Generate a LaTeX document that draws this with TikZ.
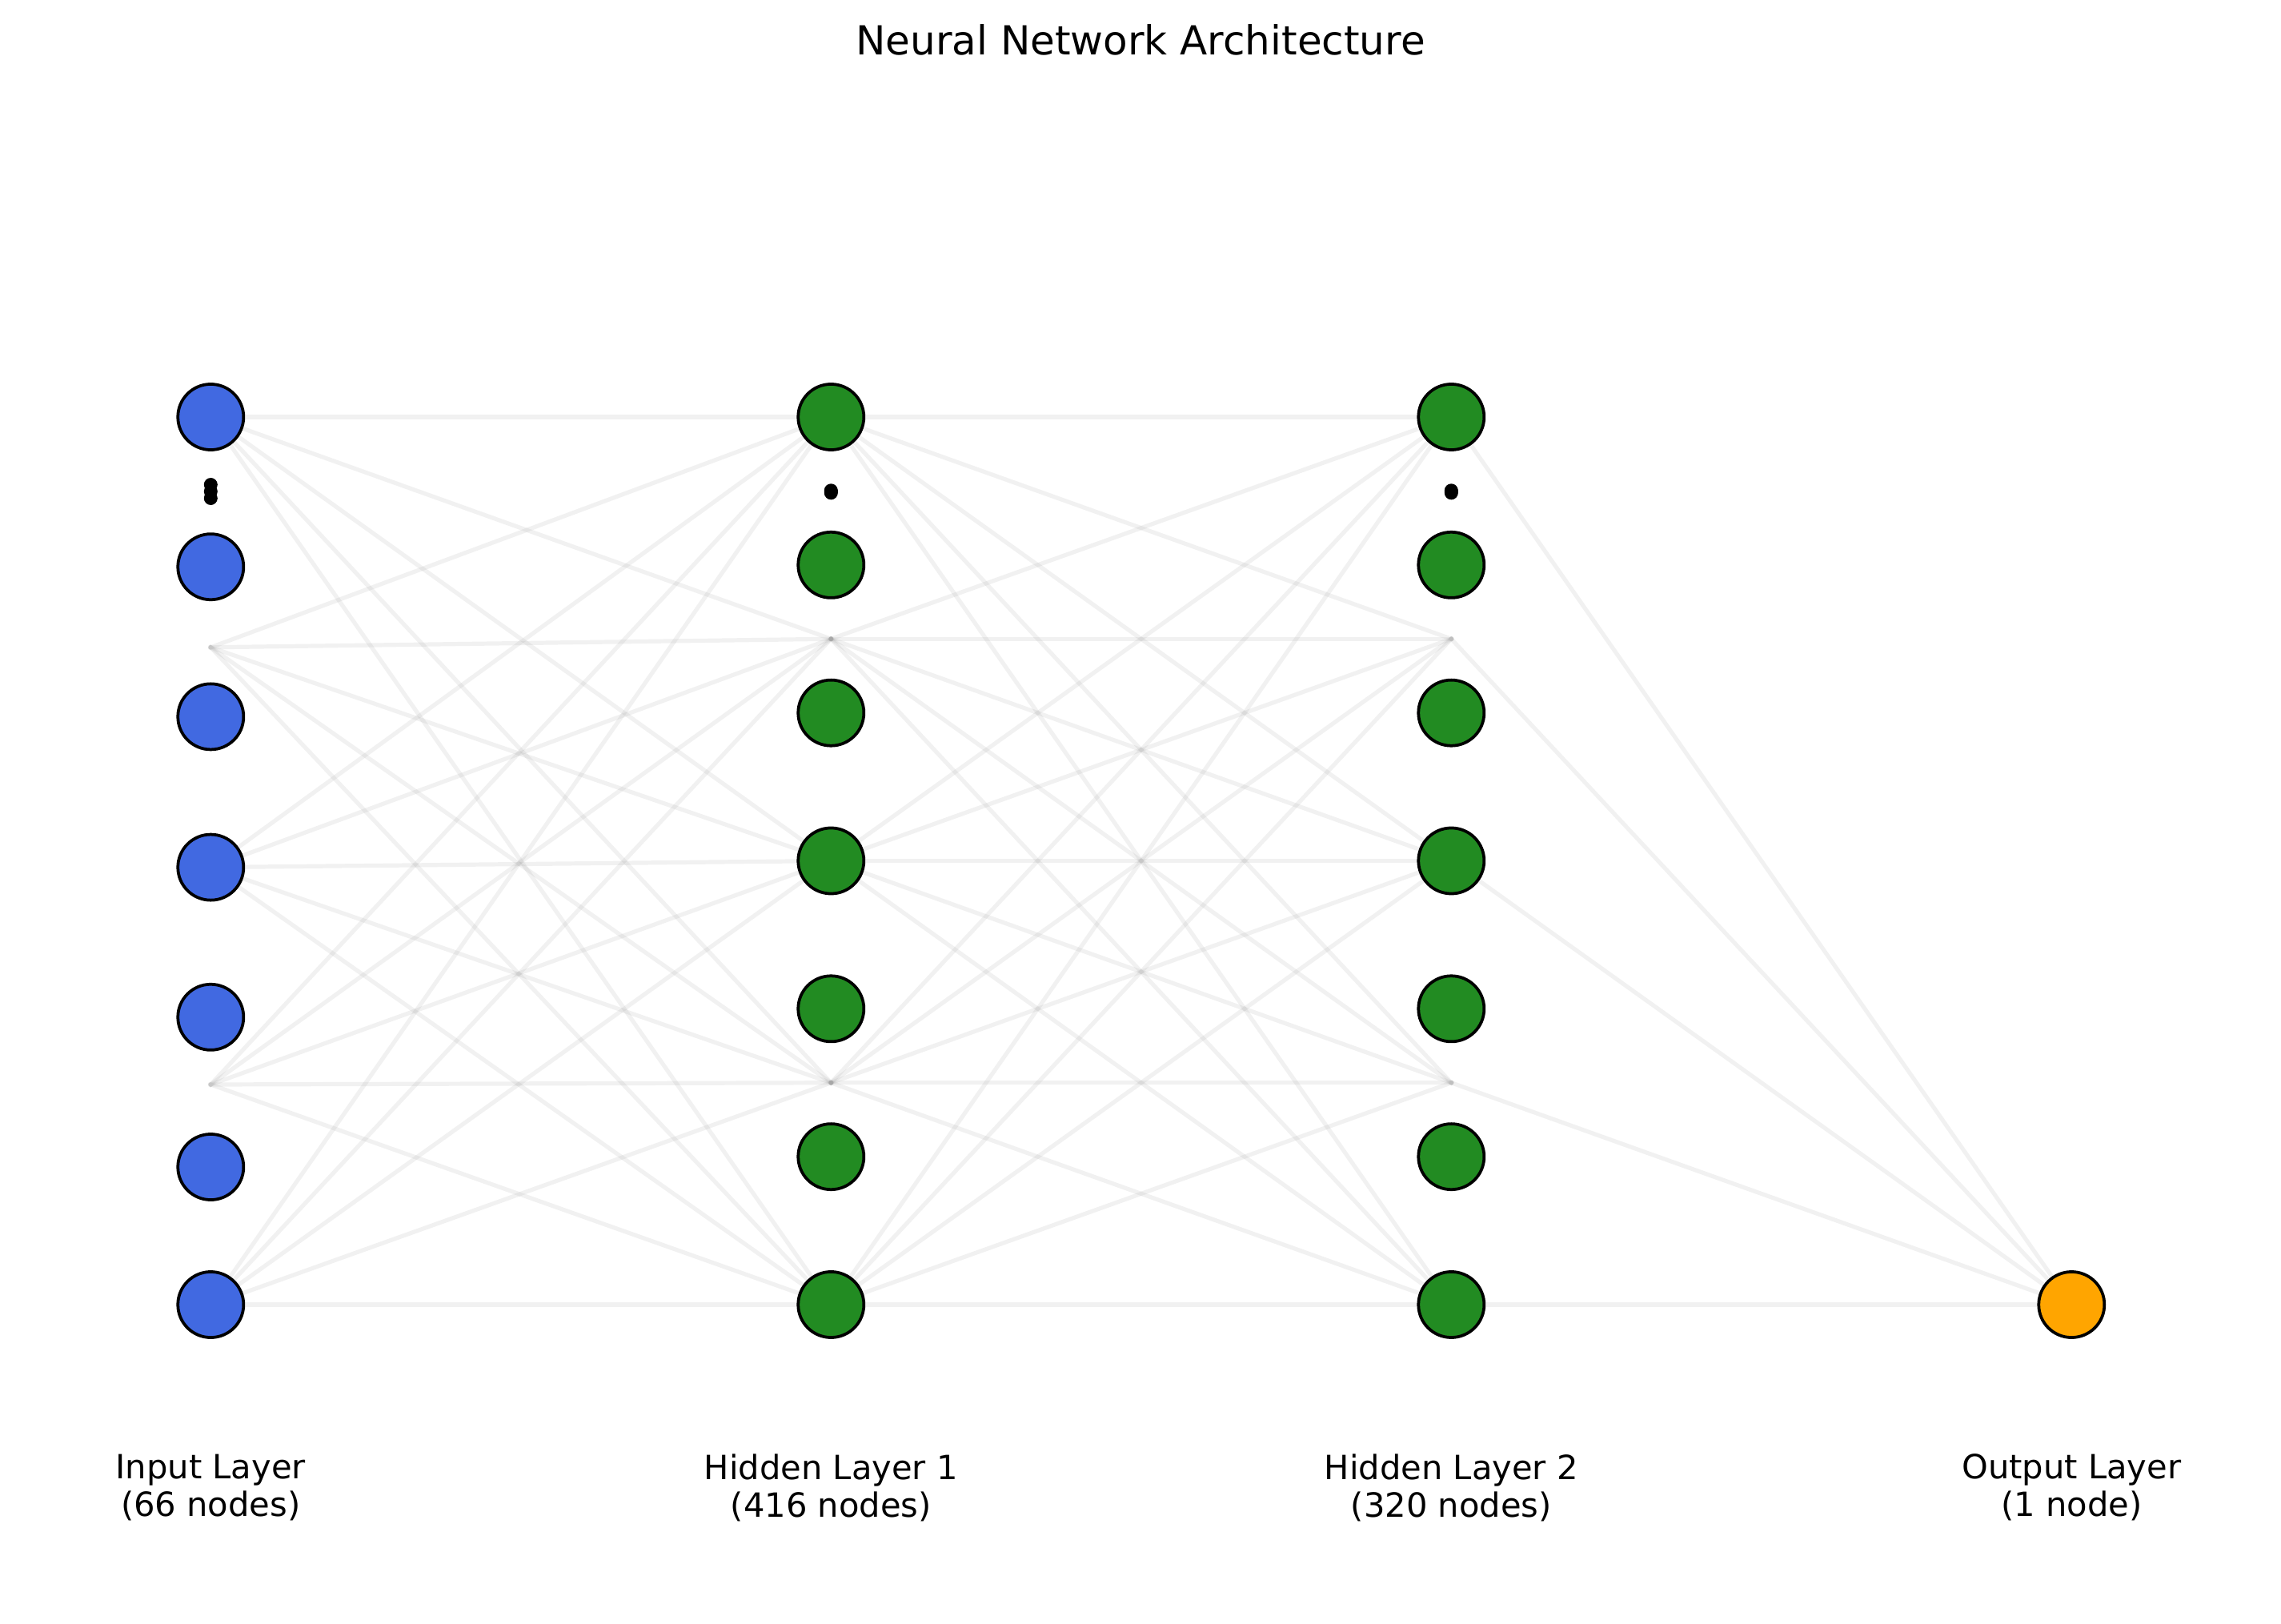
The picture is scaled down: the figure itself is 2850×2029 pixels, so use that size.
\documentclass[tikz,border=0pt]{standalone}
\usepackage{fontspec}
\setmainfont{DejaVu Sans}
\usepackage{tikz}
\definecolor{inputcolor}{HTML}{4169E1}
\definecolor{hiddencolor}{HTML}{228B22}
\definecolor{outputcolor}{HTML}{FFA500}

\tikzset{
	neuron/.style={circle, draw=black, line width=0.9pt,
		minimum size=19.7pt, inner sep=0pt},
	link/.style={draw=gray, draw opacity=0.11, line width=1.25pt, line cap=rect},
	layertext/.style={align=center, anchor=north, inner sep=0pt,
		font=\fontsize{10}{11.3}\selectfont}
}

\begin{document}
\begin{tikzpicture}[x=0.24pt, y=-0.24pt]
		\useasboundingbox (0,0) rectangle (2850,2029);
		% title
		\node[anchor=base, font=\fontsize{12}{14.4}\selectfont]
		(title) at (1425,68.3) {Neural Network Architecture};

		% link points
		\foreach \y [count=\k] in {521,808.8,1083.6,1355,1630}
		\coordinate (inp\k) at (263.3,\y);
		\foreach \y [count=\k] in {521,798.25,1075.5,1352.75,1630}{
			\coordinate (hap\k) at (1038.3,\y);
			\coordinate (hbp\k) at (1813.3,\y);
		}
		\coordinate (outp) at (2588.3,1630);

		% links
		\foreach \i in {1,...,5}{
			\foreach \j in {1,...,5}{
				\draw[link] (inp\i) -- (hap\j);
				\draw[link] (hap\i) -- (hbp\j);
			}
			\draw[link] (hbp\i) -- (outp);
		}

		% input layer
		\foreach \y [count=\k] in {521,708.2,895.4,1083.6,1270.8,1458,1630}
		\node[neuron, fill=inputcolor] (in\k) at (263.3,\y) {};
		% hidden layers
		\foreach \k in {1,...,7}{
			\node[neuron, fill=hiddencolor] (ha\k) at (1038.3,{521+184.83*(\k-1)}) {};
			\node[neuron, fill=hiddencolor] (hb\k) at (1813.3,{521+184.83*(\k-1)}) {};
		}
		% output layer
		\node[neuron, fill=outputcolor] (out) at (2588.3,1630) {};

		% dots
		\foreach \y in {605.5,614,622.5}
		\fill (263.3,\y) circle[radius=8.5];
		\foreach \x in {1038.3,1813.3}
		\foreach \y in {612.8,614.3,615.8}
		\fill (\x,\y) circle[radius=8.5];

		% layer names
		\node[layertext] (inname) at (263.3,1816) {Input Layer\\(66 nodes)};
		\node[layertext] (haname) at (1038.3,1816) {Hidden Layer 1\\(416 nodes)};
		\node[layertext] (hbname) at (1813.3,1816) {Hidden Layer 2\\(320 nodes)};
		\node[layertext] (outname) at (2588.3,1816) {Output Layer\\(1 node)};
\end{tikzpicture}
\end{document}
